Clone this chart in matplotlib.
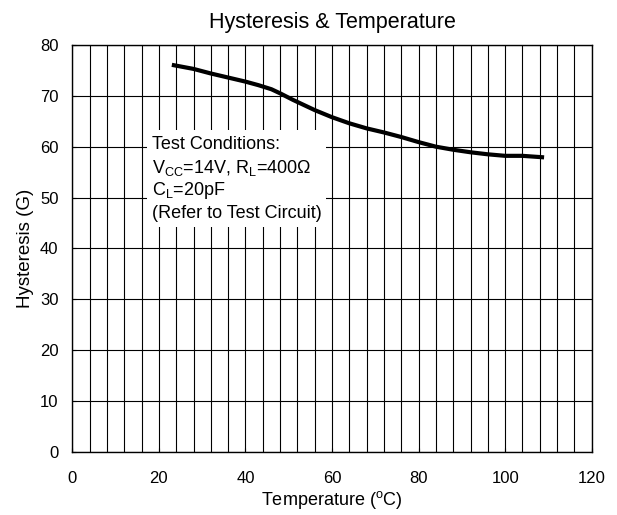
import matplotlib
matplotlib.use("Agg")
import matplotlib.pyplot as plt
from matplotlib.patches import Rectangle

plt.rcParams['font.family'] = ['Liberation Sans', 'DejaVu Sans']
plt.rcParams['mathtext.fontset'] = 'custom'
plt.rcParams['mathtext.rm'] = 'Liberation Sans'
plt.rcParams['mathtext.it'] = 'Liberation Sans'

# data
temp = [23, 28, 32, 36, 40, 43, 46, 48, 51, 56, 60, 64, 68, 72, 76, 80, 84, 88, 92, 96, 100, 104, 109]
hyst = [76.1, 75.3, 74.4, 73.6, 72.8, 72.1, 71.3, 70.5, 69.2, 67.2, 65.8, 64.6, 63.6, 62.8, 61.9,
        60.9, 60.0, 59.4, 58.9, 58.5, 58.2, 58.2, 57.9]

x_ticks = [0, 20, 40, 60, 80, 100, 120]
y_ticks = [0, 10, 20, 30, 40, 50, 60, 70, 80]
x_grid = list(range(0, 121, 4))

note_lines = ["Test Conditions:",
              r"V$_{\rm CC}$=14V, R$_{\rm L}$=400Ω",
              r"C$_{\rm L}$=20pF",
              "(Refer to Test Circuit)"]

fig = plt.figure(figsize=(6.17, 5.15), dpi=100)
ax = fig.add_axes([0.1172, 0.1229, 0.959 - 0.1172, 0.9126 - 0.1229])

# grid
for gx in x_grid:
    ax.axvline(gx, color='black', linewidth=0.8, zorder=1)
for gy in y_ticks:
    ax.axhline(gy, color='black', linewidth=0.8, zorder=1)

# white box behind the note
ax.add_patch(Rectangle((17.3, 44.2), 41.3, 19.1, facecolor='white', edgecolor='none', zorder=2))
note_y = [60.4, 55.9, 51.3, 46.8]
for s, yy in zip(note_lines, note_y):
    ax.text(18.4, yy, s, fontsize=13, va='center', ha='left', zorder=3)

ax.plot(temp, hyst, color='black', linewidth=3, solid_capstyle='butt', zorder=4)

ax.set_xlim(0, 120)
ax.set_ylim(0, 80)
ax.set_xticks(x_ticks)
ax.set_yticks(y_ticks)
ax.tick_params(direction='in', length=3, labelsize=12)
ax.tick_params(axis='x', pad=14)
ax.tick_params(axis='y', pad=10)
for sp in ax.spines.values():
    sp.set_linewidth(1.0)

ax.set_xlabel(r"Temperature ($^{\rm o}$C)", fontsize=13, labelpad=2)
ax.set_ylabel("Hysteresis (G)", fontsize=13.5, labelpad=4)
ax.set_title("Hysteresis & Temperature", fontsize=15.5, pad=12)

fig.savefig("out.png", dpi=100)
